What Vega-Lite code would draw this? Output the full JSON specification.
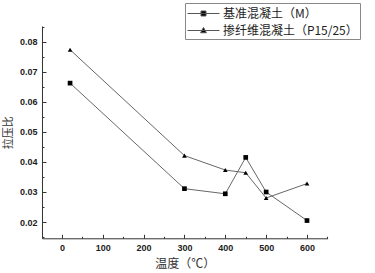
{
  "$schema": "https://vega.github.io/schema/vega-lite/v6.json",
  "autosize": "none",
  "width": 285.6,
  "height": 212.3,
  "padding": {"left": 42, "top": 26, "right": 47, "bottom": 35},
  "background": "white",
  "config": {
    "view": {"stroke": null},
    "axis": {"domainColor": "#333", "tickColor": "#333", "labelColor": "#222", "labelFont": "Liberation Sans", "labelFontWeight": "bold", "labelFontSize": 9, "grid": false, "titleFont": "Noto Sans CJK SC", "titleFontWeight": "normal", "titleColor": "#333"}
  },
  "data": {"values": [
    {"t": 20, "r": 0.0662, "s": "基准混凝土（M）"},
    {"t": 300, "r": 0.0311, "s": "基准混凝土（M）"},
    {"t": 400, "r": 0.0294, "s": "基准混凝土（M）"},
    {"t": 450, "r": 0.0415, "s": "基准混凝土（M）"},
    {"t": 500, "r": 0.0300, "s": "基准混凝土（M）"},
    {"t": 600, "r": 0.0205, "s": "基准混凝土（M）"},
    {"t": 20, "r": 0.0773, "s": "掺纤维混凝土（P15/25）"},
    {"t": 300, "r": 0.0421, "s": "掺纤维混凝土（P15/25）"},
    {"t": 400, "r": 0.0373, "s": "掺纤维混凝土（P15/25）"},
    {"t": 450, "r": 0.0364, "s": "掺纤维混凝土（P15/25）"},
    {"t": 500, "r": 0.0280, "s": "掺纤维混凝土（P15/25）"},
    {"t": 600, "r": 0.0328, "s": "掺纤维混凝土（P15/25）"}
  ]},
  "resolve": {"axis": {"x": "independent", "y": "independent"}, "scale": {"shape": "independent"}},
  "layer": [
    {
      "mark": {"type": "line", "color": "#666", "strokeWidth": 1},
      "encoding": {
        "x": {"field": "t", "type": "quantitative", "scale": {"domain": [-48.7, 650.4], "nice": false, "zero": false},
          "axis": {"orient": "bottom", "values": [0, 100, 200, 300, 400, 500, 600], "tickSize": -4, "labelPadding": 9, "title": "温度（℃）", "titleFontSize": 12, "titlePadding": 6}},
        "y": {"field": "r", "type": "quantitative", "scale": {"domain": [0.0146, 0.0852], "nice": false, "zero": false},
          "axis": {"orient": "left", "values": [0.02, 0.03, 0.04, 0.05, 0.06, 0.07, 0.08], "format": ".2f", "tickSize": -4, "labelPadding": 9, "title": "拉压比", "titleFontSize": 11, "titlePadding": 6}},
        "detail": {"field": "s"}
      }
    },
    {
      "mark": {"type": "point", "filled": true, "color": "black", "opacity": 1, "size": 22},
      "encoding": {
        "x": {"field": "t", "type": "quantitative",
          "axis": {"orient": "bottom", "values": [-50, 50, 150, 250, 350, 450, 550, 650], "tickSize": -2, "labels": false, "domain": false, "title": null}},
        "y": {"field": "r", "type": "quantitative",
          "axis": {"orient": "left", "values": [0.015, 0.025, 0.035, 0.045, 0.055, 0.065, 0.075, 0.085], "tickSize": -2, "labels": false, "domain": false, "title": null}},
        "shape": {"field": "s", "type": "nominal", "scale": {"domain": ["基准混凝土（M）", "掺纤维混凝土（P15/25）"], "range": ["square", "triangle-up"]}, "legend": null}
      }
    },
    {
      "mark": {"type": "point", "filled": false, "color": "#555", "fill": "black", "opacity": 0, "size": 256},
      "encoding": {
        "x": {"field": "t", "type": "quantitative", "axis": null},
        "y": {"field": "r", "type": "quantitative", "axis": null},
        "shape": {"field": "s", "type": "nominal",
          "scale": {"domain": ["基准混凝土（M）", "掺纤维混凝土（P15/25）"], "range": ["M-2,0H2M-0.31,-0.31H0.31V0.31H-0.31Z", "M-2,0H2M0,-0.38L0.36,0.28H-0.36Z"]},
          "legend": {"title": null, "orient": "none", "legendX": 143, "legendY": -23, "symbolSize": 256, "symbolOffset": 8, "symbolStrokeWidth": 1, "labelFont": "Noto Sans CJK SC", "labelFontSize": 12, "labelColor": "#222", "labelOffset": 11, "strokeColor": "#888", "fillColor": "white", "padding": 2, "rowPadding": 2}}
      }
    }
  ]
}
